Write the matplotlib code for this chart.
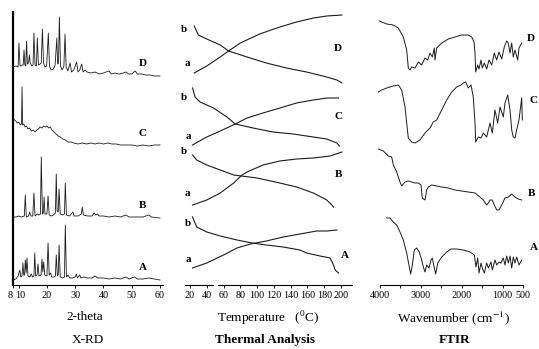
import matplotlib
matplotlib.use('Agg')
import matplotlib.pyplot as plt
import matplotlib.transforms as mtransforms
import numpy as np

plt.rcParams['font.family'] = ['Liberation Serif', 'DejaVu Serif']
plt.rcParams['mathtext.fontset'] = 'stix'

# ---------------- X-RD (2-theta, intensity above each trace's offset) ----------------
xrd_D_tt = [8.0, 9.0, 9.8, 10.1, 10.5, 11.3, 11.6, 11.9, 12.2, 12.5, 12.8, 13.1, 13.5, 13.8, 14.1,
            14.7, 15.1, 15.4, 15.8, 16.3, 16.6, 17.0, 17.6, 18.0, 18.4, 18.8, 19.3, 19.9, 20.5, 20.9,
            21.5, 22.3, 22.9, 23.5, 23.8, 24.1, 24.4, 24.8, 25.4, 26.0, 26.4, 26.8, 27.4, 28.2, 28.7,
            29.5, 30.5, 31.0, 31.6, 32.3, 32.8, 33.5, 34.2, 35.5, 37.0, 38.5, 40.0, 41.9, 42.8, 44.0,
            45.5, 47.0, 48.0, 48.8, 50.0, 51.2, 52.0, 53.5, 55.0, 56.5, 58.0, 60.0]
xrd_D_int = [8, 9, 8, 32, 9, 10, 10, 25, 10, 9, 34, 11, 12, 20, 12,
             9, 10, 42, 10, 9, 37, 10, 11, 12, 46, 12, 8, 9, 42, 9,
             5, 6, 10, 37, 11, 12, 58, 9, 5, 9, 41, 8, 4, 12, 3,
             5, 13, 3, 5, 11, 3, 5, 3, 2, 3, 1, 2, 4, 1, 2,
             1, 2, 3, 1, 1, 4, 1, 1, 0, 0, -1, -1]

xrd_C_tt = [8.0, 8.5, 9.0, 9.5, 10.0, 10.6, 11.0, 11.2, 11.4, 11.8, 12.3, 12.8, 13.3, 13.9, 14.5,
            15.1, 15.8, 16.4, 17.0, 17.6, 18.2, 18.8, 19.4, 20.0, 20.6, 21.2, 21.8, 22.5, 23.2, 24.0,
            24.8, 25.6, 26.5, 27.5, 28.5, 29.5, 31.0, 32.5, 34.0, 35.5, 37.0, 38.5, 40.0, 41.5, 43.0,
            44.5, 46.0, 48.0, 50.0, 52.0, 54.0, 56.0, 58.0, 60.0]
xrd_C_int = [27, 25, 24, 22, 23, 20, 21, 58, 20, 21, 18, 19, 16, 17, 14,
             15, 13, 15, 16, 18, 17, 19, 18, 19, 17, 18, 15, 13, 11, 9,
             8, 6, 5, 3, 3, 2, 1, 2, 1, 2, 1, 2, 1, 2, 1,
             1, 0, 0, 0, -1, 0, -1, 0, 0]

xrd_B_tt = [8.0, 9.0, 10.0, 11.0, 12.0, 12.35, 12.7, 13.5, 13.9, 14.3, 15.0, 15.4, 15.8, 16.6, 17.2,
            17.7, 18.0, 18.4, 18.7, 19.0, 19.3, 20.0, 20.4, 20.8, 21.5, 22.3, 23.0, 23.3, 23.6, 24.0,
            24.3, 24.7, 25.5, 26.2, 26.5, 26.9, 28.0, 29.2, 29.6, 31.0, 32.2, 32.5, 32.9, 34.5, 36.0,
            36.7, 37.2, 37.8, 38.5, 40.0, 42.0, 44.0, 46.0, 48.0, 49.0, 52.0, 54.0, 56.0, 57.0, 60.0]
xrd_B_int = [1, 1, 2, 1, 2, 23, 1, 2, 6, 2, 2, 25, 2, 4, 3,
             4, 61, 4, 5, 21, 4, 4, 22, 3, 2, 3, 5, 44, 7, 6,
             29, 4, 3, 4, 35, 3, 2, 6, 2, 2, 4, 11, 3, 2, 2,
             5, 3, 4, 2, 2, 1, 2, 1, 3, 1, 1, 1, 3, 1, 0]

xrd_A_tt = [8.0, 9.0, 9.8, 10.4, 10.8, 11.2, 11.5, 11.8, 12.1, 12.35, 12.65, 12.95, 13.3, 14.0, 14.5,
            14.9, 15.4, 15.7, 16.0, 16.5, 16.85, 17.2, 17.9, 18.25, 18.55, 18.85, 19.2, 20.0, 20.4, 20.8,
            21.3, 21.7, 22.5, 23.0, 23.3, 23.7, 24.0, 24.3, 24.7, 25.5, 26.2, 26.5, 26.9, 27.5, 28.0,
            29.0, 30.0, 30.4, 30.8, 31.6, 32.0, 33.0, 34.5, 36.0, 37.0, 38.0, 40.0, 42.0, 44.0, 46.0,
            48.0, 49.0, 51.0, 52.0, 54.0, 56.0, 58.0, 60.0]
xrd_A_int = [-1, 0, 3, 9, 2, 3, 16, 4, 4, 19, 6, 21, 3, 2, 5,
             2, 3, 26, 3, 4, 15, 3, 4, 20, 7, 17, 4, 3, 36, 4,
             6, 2, 2, 3, 24, 3, 4, 34, 2, 1, 2, 54, 2, 4, 1,
             1, 2, 5, 1, 4, 1, 2, 1, 1, 3, 1, 1, 0, 1, 0,
             2, 0, 2, 0, 0, 1, 0, -1]

xrd_series = {'D': (xrd_D_tt, xrd_D_int), 'C': (xrd_C_tt, xrd_C_int),
              'B': (xrd_B_tt, xrd_B_int), 'A': (xrd_A_tt, xrd_A_int)}
xrd_offsets = {'D': 210, 'C': 140, 'B': 67, 'A': 6}
xrd_ticks = [8, 10, 20, 30, 40, 50, 60]

# ---------------- Thermal analysis (temperature, signal above offset) ----------------
ta_D_a_T = [25, 40, 56, 66, 80, 103, 127, 147, 167, 183, 201]
ta_D_a = [12, 19, 28, 34, 42, 51, 58, 63, 67, 69, 70]
ta_D_b_T = [25, 30, 40, 56, 66, 88, 111, 135, 159, 183, 195, 201]
ta_D_b = [59, 50, 46, 40, 34, 28, 22, 17, 13, 8, 5, 2]
ta_C_a_T = [23, 40, 56, 74, 88, 107, 127, 147, 167, 183, 197]
ta_C_a = [10, 18, 24, 31, 37, 42, 47, 52, 55, 57, 57]
ta_C_b_T = [23, 26, 32, 48, 64, 74, 95, 119, 143, 167, 183, 195, 198]
ta_C_b = [67, 58, 53, 47, 38, 31, 27, 23, 21, 18, 16, 12, 9]
ta_B_a_T = [23, 40, 56, 72, 82, 88, 107, 127, 147, 167, 187, 201]
ta_B_a = [0, 5, 12, 22, 30, 33, 40, 44, 46, 47, 49, 53]
ta_B_b_T = [23, 28, 40, 56, 72, 100, 127, 147, 167, 183, 189, 191]
ta_B_b = [50, 45, 40, 35, 30, 27, 22, 18, 12, 5, 0, -2]
ta_A_a_T = [23, 40, 60, 76, 92, 111, 131, 151, 171, 183, 195]
ta_A_a = [17, 22, 30, 37, 41, 44, 48, 51, 54, 54, 55]
ta_A_b_T = [23, 28, 40, 56, 76, 94, 111, 131, 151, 159, 175, 187, 191, 193, 197]
ta_A_b = [68, 58, 53, 49, 45, 42, 40, 38, 35, 32, 29, 27, 20, 15, 12]

ta_series = {'D': [(ta_D_a_T, ta_D_a), (ta_D_b_T, ta_D_b)],
             'C': [(ta_C_a_T, ta_C_a), (ta_C_b_T, ta_C_b)],
             'B': [(ta_B_a_T, ta_B_a), (ta_B_b_T, ta_B_b)],
             'A': [(ta_A_a_T, ta_A_a), (ta_A_b_T, ta_A_b)]}
ta_offsets = {'D': 200, 'C': 130, 'B': 80, 'A': 0}
ta_ticks = [20, 40, 60, 80, 100, 120, 140, 160, 180, 200]

# ---------------- FTIR (wavenumber, transmittance above offset) ----------------
ir_D_wn = [4020, 3836, 3674, 3552, 3430, 3347, 3307, 3266, 3225, 3143, 3062, 2980, 2899, 2833, 2776,
           2720, 2671, 2654, 2613, 2490, 2328, 2165, 2001, 1839, 1756, 1699, 1675, 1658, 1609, 1577,
           1528, 1496, 1447, 1389, 1332, 1266, 1203, 1144, 1088, 1021, 958, 899, 860, 818, 777,
           738, 696, 630, 598, 532]
ir_D_t = [54, 51, 50, 47, 38, 25, 7, 5, 8, 7, 13, 10, 17, 15, 22,
          18, 27, 15, 27, 32, 36, 38, 40, 40, 38, 33, 22, 3, 10, 6,
          15, 7, 12, 6, 15, 10, 22, 15, 23, 16, 28, 34, 32, 22, 32,
          18, 25, 15, 27, 32]

ir_C_wn = [4040, 3958, 3836, 3674, 3552, 3469, 3388, 3347, 3307, 3225, 3143, 3021, 2899, 2776, 2696,
           2613, 2490, 2368, 2245, 2123, 2018, 1961, 1904, 1839, 1773, 1717, 1675, 1658, 1594, 1528,
           1472, 1389, 1308, 1252, 1186, 1120, 1063, 982, 941, 875, 818, 777, 738, 696, 655,
           598, 532, 517]
ir_C_t = [53, 55, 57, 59, 60, 55, 38, 22, 7, 3, 2, 5, 12, 17, 23,
          25, 35, 45, 53, 58, 60, 62, 63, 57, 60, 48, 22, 3, 8, 7,
          12, 8, 22, 12, 35, 22, 38, 28, 42, 50, 35, 15, 8, 7, 15,
          25, 47, 25]

ir_B_wn = [4042, 3919, 3797, 3714, 3674, 3591, 3511, 3469, 3388, 3307, 3224, 3143, 3063, 2997, 2965,
           2899, 2857, 2818, 2735, 2612, 2490, 2328, 2164, 2000, 1839, 1675, 1553, 1472, 1389, 1349,
           1308, 1252, 1203, 1144, 1088, 1022, 941, 860, 777, 696, 615, 532]
ir_B_t = [61, 59, 54, 53, 45, 38, 28, 24, 28, 29, 28, 27, 27, 25, 12,
          10, 20, 23, 25, 24, 23, 22, 20, 19, 18, 17, 13, 10, 5, 7,
          10, 10, 5, 0, 0, 5, 12, 13, 16, 13, 11, 10]

ir_A_wn = [3836, 3755, 3674, 3591, 3511, 3430, 3347, 3283, 3249, 3209, 3160, 3102, 3038, 2980, 2940,
           2899, 2857, 2801, 2752, 2720, 2671, 2637, 2588, 2490, 2368, 2262, 2123, 1961, 1797, 1692,
           1650, 1609, 1577, 1528, 1496, 1447, 1389, 1349, 1283, 1252, 1186, 1144, 1088, 1039, 982,
           941, 900, 860, 818, 777, 738, 696, 655, 598, 532]
ir_A_t = [62, 62, 58, 55, 48, 40, 27, 13, 6, 15, 30, 32, 28, 20, 13,
          8, 15, 12, 20, 22, 12, 6, 17, 23, 28, 31, 31, 30, 28, 25,
          13, 22, 7, 17, 12, 7, 17, 12, 18, 10, 20, 15, 18, 17, 22,
          15, 24, 17, 24, 12, 23, 17, 23, 15, 20]

ir_series = {'D': (ir_D_wn, ir_D_t), 'C': (ir_C_wn, ir_C_t),
             'B': (ir_B_wn, ir_B_t), 'A': (ir_A_wn, ir_A_t)}
ir_offsets = {'D': 210, 'C': 140, 'B': 75, 'A': 5}
ir_ticks = [4000, 3500, 3000, 2500, 2000, 1500, 1000, 500]
ir_ticklabels = ['4000', '', '3000', '', '2000', '', '1000', '500']

# ---------------- layout ----------------
W, H = 539, 349
LINE = '#1c1c1c'
fig = plt.figure(figsize=(W / 100, H / 100), dpi=100)


def panel(left, right, xlim, top=5, bottom=285):
    ax = fig.add_axes([left / W, 1 - bottom / H, (right - left) / W, (bottom - top) / H])
    ax.set_xlim(*xlim)
    ax.set_ylim(0, bottom - top)
    ax.patch.set_alpha(0)
    for s in ['top', 'right', 'left']:
        ax.spines[s].set_visible(False)
    ax.spines['bottom'].set_linewidth(0.8)
    ax.set_yticks([])
    ax.tick_params(axis='x', labelsize=7.3, length=2, width=0.6, pad=2.5, direction='out')
    return ax


# X-RD
ax1 = panel(13, 163, (8, 61.06))
ax1.spines['left'].set_visible(True)
ax1.spines['left'].set_linewidth(1.6)
ax1.spines['left'].set_bounds(0, 273)
for name, (tt, inten) in xrd_series.items():
    ax1.plot(tt, np.array(inten) + xrd_offsets[name], color=LINE, lw=0.6)
ax1.set_xticks(xrd_ticks)
# the "8" and "10" labels sit very close together: nudge them apart a little
lbls = ax1.get_xticklabels()
for lbl, dx in zip(lbls[:2], [-2.5, 1.5]):
    lbl.set_transform(lbl.get_transform() +
                      mtransforms.ScaledTranslation(dx / 100, 0, fig.dpi_scale_trans))
xrd_lab_pos = {'D': 222, 'C': 152, 'B': 80, 'A': 18}
for name, ypos in xrd_lab_pos.items():
    ax1.text(53.8, ypos, name, fontsize=8, fontweight='bold', ha='center', va='center')

# Thermal analysis
ax2 = panel(180, 360, (8.08, 222.6))
ax2.spines['bottom'].set_bounds(53.4, 213.1)
ax2.plot([14.0, 47.4], [0, 0], color='black', lw=0.8, clip_on=False,
         transform=ax2.get_xaxis_transform())
for name, curves in ta_series.items():
    for T, sig in curves:
        ax2.plot(T, np.array(sig) + ta_offsets[name], color=LINE, lw=0.8)
ax2.set_xticks(ta_ticks)
ta_labels = [('D', 196.4, 237), ('C', 196.4, 169), ('B', 196.4, 111), ('A', 204.7, 30),
             ('b', 12.8, 256), ('a', 16.4, 222), ('b', 12.8, 188), ('a', 17.6, 149),
             ('b', 12.8, 134), ('a', 16.4, 92), ('b', 17.6, 62), ('a', 17.6, 26)]
for txt, x, y in ta_labels:
    ax2.text(x, y, txt, fontsize=8, fontweight='bold', ha='center', va='center', clip_on=False)

# FTIR
ax3 = panel(376, 539, (4097.9, 108.6))
ax3.spines['bottom'].set_bounds(500, 4000)
for name, (wn, t) in ir_series.items():
    ax3.plot(wn, np.array(t) + ir_offsets[name], color=LINE, lw=0.7)
ax3.set_xticks(ir_ticks)
ax3.set_xticklabels(ir_ticklabels)
ir_labels = [('D', 304, 247), ('C', 255, 185), ('B', 280, 92), ('A', 230, 38)]
for txt, x, y in ir_labels:
    ax3.text(x, y, txt, fontsize=8, fontweight='bold', ha='center', va='center', clip_on=False)

# axis names and panel titles
fig.text(85 / W, 1 - 317 / H, '2-theta', fontsize=9.5, ha='center', va='center')
fig.text(268 / W, 1 - 318 / H, 'Temperature   ($^0$C)', fontsize=9.5, ha='center', va='center')
fig.text(453 / W, 1 - 318 / H, 'Wavenumber (cm$^{-1}$)', fontsize=9.5, ha='center', va='center')
fig.text(88 / W, 1 - 340 / H, 'X-RD', fontsize=9.5, ha='center', va='center')
fig.text(265 / W, 1 - 340 / H, 'Thermal Analysis', fontsize=9.5, fontweight='bold',
         ha='center', va='center')
fig.text(455 / W, 1 - 340 / H, 'FTIR', fontsize=9.5, fontweight='bold', ha='center', va='center')

fig.savefig('out.png', dpi=100)
